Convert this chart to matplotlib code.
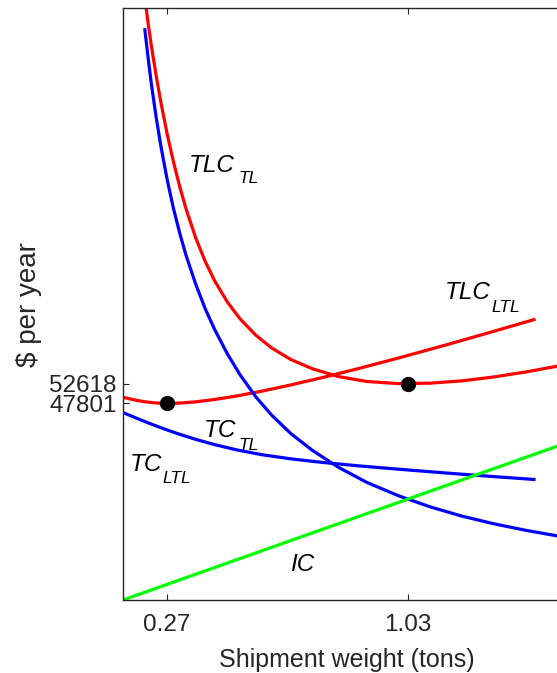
import matplotlib
matplotlib.use("Agg")
import matplotlib.pyplot as plt

plt.rcParams['font.family'] = ['Liberation Sans', 'DejaVu Sans']

# shipment weight (tons) for the truckload curves
w_tl = [0.20, 0.21, 0.22, 0.235, 0.25, 0.27, 0.29, 0.31, 0.33, 0.36, 0.39,
        0.42, 0.46, 0.50, 0.55, 0.60, 0.66, 0.73, 0.81, 0.90, 1.00, 1.10,
        1.20, 1.30, 1.40, 1.50]
tlc_tl = [146400, 140400, 135050, 127800, 121250, 113450, 106650, 100500,
          95100, 88150, 82400, 77650, 72500, 68400, 64400, 61300, 58500,
          56200, 54350, 53150, 52640, 52750, 53300, 54250, 55450, 56860]
tc_tl = [138700, 132000, 125800, 117700, 110600, 102350, 95300, 89200, 83800,
         76900, 70900, 65800, 59900, 54800, 49400, 44950, 40500, 36300, 32300,
         28600, 25350, 22650, 20400, 18550, 16970, 15600]

# shipment weight for the less-than-truckload curves
w_ltl = [0.131, 0.15, 0.17, 0.20, 0.23, 0.27, 0.31, 0.36, 0.42, 0.49, 0.57,
         0.66, 0.76, 0.88, 1.01, 1.15, 1.30, 1.427]
tlc_ltl = [49320, 48960, 48620, 48215, 47960, 47801, 47900, 48200, 48770,
           49630, 50815, 52310, 54110, 56425, 59080, 62050, 65350, 68200]
tc_ltl = [45600, 44980, 44340, 43400, 42500, 41360, 40300, 39080, 37790,
          36510, 35330, 34340, 33460, 32590, 31750, 30890, 30020, 29320]

# inventory cost line
w_ic = [0.131, 1.50]
ic = [0, 37400]

# optimal points
opt_w = [0.27, 1.03]
opt_cost = [47801, 52618]

xticks = [0.27, 1.03]
xticklabels = ['0.27', '1.03']
yticks = [47801, 52618]
yticklabels = ['47801', '52618']

fig = plt.figure(figsize=(5.57, 6.73), dpi=100)
# axes runs past the right edge of the figure, as in the reference
ax = fig.add_axes([123 / 557, 73 / 673, 497.5 / 557, 592 / 673])

lw = 2.3
ax.plot(w_tl, tlc_tl, color='#ff0000', lw=lw, solid_joinstyle='round')
ax.plot(w_ltl, tlc_ltl, color='#ff0000', lw=lw, solid_joinstyle='round')
ax.plot(w_tl, tc_tl, color='#0000ff', lw=lw, solid_joinstyle='round')
ax.plot(w_ltl, tc_ltl, color='#0000ff', lw=lw, solid_joinstyle='round')
ax.plot(w_ic, ic, color='#00ff00', lw=lw)
ax.plot(opt_w, opt_cost, 'o', color='black', ms=10, zorder=5)

ax.set_xlim(0.131, 1.70)
ax.set_ylim(0, 144000)

ax.set_xticks(xticks)
ax.set_xticklabels(xticklabels)
ax.set_yticks(yticks)
ax.set_yticklabels(yticklabels)
ax.tick_params(direction='in', top=True, right=True, length=4.5, width=0.8,
               labelsize=17.5, colors='#262626')
ax.tick_params(axis='x', pad=10)
ax.tick_params(axis='y', pad=4.5)
for s in ax.spines.values():
    s.set_color('#262626')
    s.set_linewidth(1.0)

big = 17.5
small = 12.5
def lab(x, y, s, size):
    ax.text(x, y, s, fontsize=size, style='italic', ha='left', va='baseline',
            color='black')

lab(0.337, 104160, 'TLC', big)
lab(0.495, 101340, 'TL', small)
lab(1.1445, 73130, 'TLC', big)
lab(1.294, 70115, 'LTL', small)
lab(0.3845, 39570, 'TC', big)
lab(0.495, 36480, 'TL', small)
lab(0.1533, 31450, 'TC', big)
lab(0.2564, 28530, 'LTL', small)
lab(0.658, 7130, 'IC', big)

fig.text(346.5 / 557, (673 - 666.5) / 673, 'Shipment weight (tons)',
         fontsize=18, color='#262626', ha='center', va='baseline')
fig.text(29.5 / 557, 1 - 304.5 / 673, '\\$ per year', fontsize=20,
         color='#262626', ha='center', va='center', rotation=90)

fig.savefig('out.png', dpi=100)
